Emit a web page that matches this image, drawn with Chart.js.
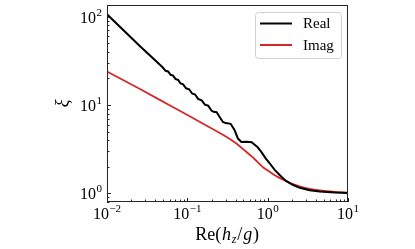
<!DOCTYPE html>
<html>
<head>
<meta charset="utf-8">
<script src="https://cdn.jsdelivr.net/npm/chart.js@4.4.0/dist/chart.umd.min.js"></script>
<style>
  html, body { margin: 0; padding: 0; background: #fff; }
  #wrap { width: 415px; height: 249px; }
</style>
</head>
<body>
<div id="wrap"><canvas id="chart" width="415" height="249"></canvas></div>
<script>
// values
const realX = [0.01, 0.0254, 0.0492, 0.0536, 0.0576, 0.0619, 0.0665, 0.0714, 0.0767, 0.0825, 0.0886,
  0.0965, 0.1052, 0.1147, 0.1249, 0.1362, 0.1506, 0.1665, 0.1815, 0.2007, 0.2125, 0.2316, 0.2524,
  0.2773, 0.2998, 0.3459, 0.3881, 0.4266, 0.4703, 0.5475, 0.6318, 0.7509, 0.8418, 0.9443, 1.059,
  1.222, 1.411, 1.676, 2.049, 2.505, 3.337, 4.444, 6.834, 10];
const realY = [106.7, 47.0, 26.78, 24.44, 24.0, 22.02, 21.56, 19.69, 19.28, 17.55, 17.19,
  15.48, 15.09, 13.52, 13.17, 11.74, 11.32, 10.07, 9.86, 8.61, 8.38, 8.28, 7.32,
  6.43, 6.25, 6.13, 5.18, 4.17, 3.81, 3.83, 3.78, 3.32, 2.91, 2.49, 2.19,
  1.84, 1.61, 1.39, 1.25, 1.154, 1.081, 1.045, 1.018, 1.008];
const imagX = [0.01, 0.0254, 0.0601, 0.1422, 0.2912, 0.3881, 0.517, 0.6318, 0.7509, 0.8915, 1.059,
  1.258, 1.494, 1.88, 2.505, 3.337, 4.444, 6.834, 10];
const imagY = [23.93, 15.28, 9.94, 6.46, 4.48, 3.78, 3.06, 2.62, 2.26, 1.95, 1.753,
  1.579, 1.452, 1.315, 1.2, 1.122, 1.076, 1.037, 1.016];

const seriesNames = ['Real', 'Imag'];
const seriesColors = ['#000000', '#d62728'];

const xMajor = [0.01, 0.1, 1, 10];
const xMajorExp = ['\u22122', '\u22121', '0', '1'];
const xMinor = [0.02, 0.03, 0.04, 0.05, 0.06, 0.07, 0.08, 0.09, 0.2, 0.3, 0.4, 0.5, 0.6, 0.7, 0.8, 0.9,
  2, 3, 4, 5, 6, 7, 8, 9];
const yMajor = [1, 10, 100];
const yMajorExp = ['0', '1', '2'];
const yMinor = [0.8, 0.9, 2, 3, 4, 5, 6, 7, 8, 9, 20, 30, 40, 50, 60, 70, 80, 90];

const serif = '"Liberation Serif", "DejaVu Serif", serif';
const axisColor = '#262626';

function toPoints(xs, ys) {
  return xs.map((x, i) => ({ x: x, y: ys[i] }));
}

// "10" with a raised exponent, like the mathtext labels
function drawPow(ctx, exp, x, baseline, align) {
  ctx.font = '16px ' + serif;
  const wBase = ctx.measureText('10').width;
  ctx.font = '11px ' + serif;
  const wExp = ctx.measureText(exp).width;
  const total = wBase + wExp + 0.5;
  let start = x;
  if (align === 'center') start = x - total / 2;
  if (align === 'right') start = x - total;
  ctx.textAlign = 'left';
  ctx.textBaseline = 'alphabetic';
  ctx.font = '16px ' + serif;
  ctx.fillText('10', start, baseline);
  ctx.font = '11px ' + serif;
  ctx.fillText(exp, start + wBase + 0.5, baseline - 7);
}

const axesPlugin = {
  id: 'axesPlugin',
  afterDraw(chart) {
    const ctx = chart.ctx;
    const area = chart.chartArea;
    const xs = chart.scales.x;
    const ys = chart.scales.y;
    ctx.save();
    ctx.fillStyle = '#000';
    ctx.strokeStyle = axisColor;
    ctx.lineWidth = 1;

    // frame
    ctx.strokeRect(area.left + 0.5, area.top + 0.5, area.right - area.left - 1, area.bottom - area.top - 1);

    // ticks, pointing inwards
    ctx.beginPath();
    xMajor.forEach(v => {
      const px = Math.round(xs.getPixelForValue(v)) + 0.5;
      ctx.moveTo(px, area.bottom); ctx.lineTo(px, area.bottom - 4);
    });
    xMinor.forEach(v => {
      const px = Math.round(xs.getPixelForValue(v)) + 0.5;
      ctx.moveTo(px, area.bottom); ctx.lineTo(px, area.bottom - 2.5);
    });
    yMajor.forEach(v => {
      const py = Math.round(ys.getPixelForValue(v)) + 0.5;
      ctx.moveTo(area.left, py); ctx.lineTo(area.left + 4, py);
    });
    yMinor.forEach(v => {
      const py = Math.round(ys.getPixelForValue(v)) + 0.5;
      ctx.moveTo(area.left, py); ctx.lineTo(area.left + 2.5, py);
    });
    ctx.stroke();

    // tick labels
    xMajor.forEach((v, i) => {
      drawPow(ctx, xMajorExp[i], xs.getPixelForValue(v), area.bottom + 17, 'center');
    });
    yMajor.forEach((v, i) => {
      drawPow(ctx, yMajorExp[i], area.left - 5, ys.getPixelForValue(v) + 6, 'right');
    });

    // axis titles
    ctx.textAlign = 'left';
    const cx = (area.left + area.right) / 2;
    const parts = [['Re(', '18px ' + serif, 0], ['h', 'italic 18px ' + serif, 0], ['z', 'italic 12px ' + serif, 3],
      ['/', '18px ' + serif, 0], ['g', 'italic 18px ' + serif, 0], [')', '18px ' + serif, 0]];
    let tw = 0;
    parts.forEach(p => { ctx.font = p[1]; tw += ctx.measureText(p[0]).width + 0.8; });
    let tx = cx - tw / 2;
    parts.forEach(p => {
      ctx.font = p[1];
      ctx.fillText(p[0], tx, 240 + p[2]);
      tx += ctx.measureText(p[0]).width + 0.8;
    });

    ctx.save();
    ctx.translate(68, (area.top + area.bottom) / 2);
    ctx.rotate(-Math.PI / 2);
    ctx.font = 'italic 18px ' + serif;
    ctx.textAlign = 'center';
    ctx.fillText('\u03be', 0, 0);
    ctx.restore();

    // legend box
    const lx = 255.5, ly = 12.5, lw = 86, lh = 46, r = 3;
    ctx.fillStyle = 'rgba(255,255,255,0.8)';
    ctx.strokeStyle = '#d0d0d0';
    ctx.beginPath();
    ctx.moveTo(lx + r, ly);
    ctx.lineTo(lx + lw - r, ly); ctx.quadraticCurveTo(lx + lw, ly, lx + lw, ly + r);
    ctx.lineTo(lx + lw, ly + lh - r); ctx.quadraticCurveTo(lx + lw, ly + lh, lx + lw - r, ly + lh);
    ctx.lineTo(lx + r, ly + lh); ctx.quadraticCurveTo(lx, ly + lh, lx, ly + lh - r);
    ctx.lineTo(lx, ly + r); ctx.quadraticCurveTo(lx, ly, lx + r, ly);
    ctx.fill(); ctx.stroke();
    seriesNames.forEach((name, i) => {
      const y = 23.5 + i * 21.5;
      ctx.strokeStyle = seriesColors[i];
      ctx.lineWidth = 2;
      ctx.beginPath(); ctx.moveTo(260, y); ctx.lineTo(292, y); ctx.stroke();
      ctx.fillStyle = '#000';
      ctx.font = '15px ' + serif;
      ctx.textAlign = 'left';
      ctx.textBaseline = 'middle';
      ctx.fillText(name, 303, y + 1);
    });
    ctx.restore();
  }
};

new Chart(document.getElementById('chart'), {
  type: 'scatter',
  data: {
    datasets: [
      { label: seriesNames[0], data: toPoints(realX, realY), showLine: true, borderColor: seriesColors[0],
        borderWidth: 2, pointRadius: 0, tension: 0 },
      { label: seriesNames[1], data: toPoints(imagX, imagY), showLine: true, borderColor: seriesColors[1],
        borderWidth: 1.8, pointRadius: 0, cubicInterpolationMode: 'monotone' }
    ]
  },
  options: {
    responsive: false,
    devicePixelRatio: 1,
    animation: false,
    layout: { padding: { left: 107, right: 67, top: 5, bottom: 47 } },
    plugins: { legend: { display: false }, tooltip: { enabled: false } },
    scales: {
      x: { type: 'logarithmic', min: 0.01, max: 10, display: false },
      y: { type: 'logarithmic', min: 0.797, max: 136, display: false }
    }
  },
  plugins: [axesPlugin]
});
</script>
</body>
</html>
